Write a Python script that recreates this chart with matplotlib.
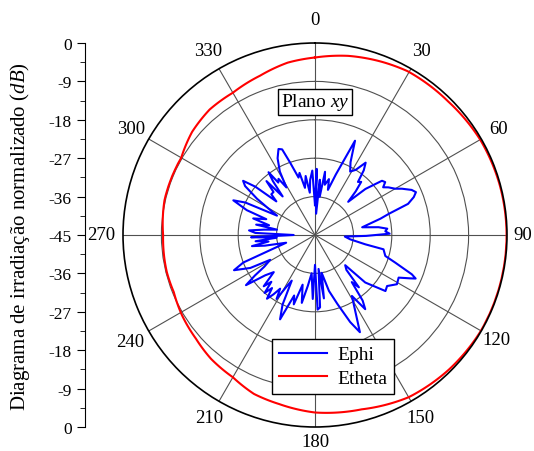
import numpy as np
import matplotlib
matplotlib.use("Agg")
import matplotlib.pyplot as plt
from matplotlib.lines import Line2D

plt.rcParams['font.family'] = ['Liberation Serif', 'DejaVu Serif']
plt.rcParams['mathtext.fontset'] = 'custom'
plt.rcParams['mathtext.rm'] = 'Liberation Serif'
plt.rcParams['mathtext.it'] = 'Liberation Serif:italic'

# ---- data (angle in degrees, level in dB) ----
etheta_deg = [0, 10.5, 21, 29.5, 45, 60, 75, 90, 105, 120, 135, 150, 165, 180,
              192, 201, 210, 220, 229, 239, 248, 256, 270, 283, 290, 300,
              310, 320, 330, 341, 351, 360]
etheta_db = [-3.4, -2.3, -1.5, -0.9, -0.8, -0.3, -0.15, -0.1, -0.1, -0.1, -0.5, -1.1, -2.7, -3.4,
             -4.5, -5.1, -6.5, -7.1, -8.0, -8.6, -9.3, -9.2, -9.4, -8.8, -8.8, -8.8,
             -7.4, -6.6, -6.5, -5.5, -4.1, -3.4]

ephi_deg = [0, 1.5, 3, 5, 7, 9, 11, 14, 16, 19, 23, 26, 29, 32, 35, 37, 39, 41, 43, 45,
            47.6, 51, 53, 55, 57, 60, 62, 65, 67, 69, 71.5, 74, 76, 80.7, 83, 85, 87, 89, 91, 93,
            97, 100.5, 101.8, 106.6, 109, 112.1, 113.4, 114.5, 117, 121, 125.3, 128.5,
            133.4, 135, 138, 140, 142, 144, 145.9, 148.8, 152, 155.2, 158, 162, 166,
            170, 172, 174, 176, 178, 180, 182, 185, 188, 191, 194, 197, 199, 202.5, 205,
            207, 209, 211, 213, 215, 217, 219, 221, 223, 225, 228, 231, 234, 236, 238, 241,
            243, 246.5, 249, 252, 255, 258, 260, 262, 264, 266, 268, 270, 272, 274, 276,
            278, 280, 282, 285, 288, 290, 293, 295, 297, 300, 302, 305, 307, 309, 311, 313,
            316, 318, 320, 322, 323.5, 325, 327, 329, 331, 334, 337, 339, 341, 344, 346,
            348, 351, 353, 355, 357.6, 359, 360]
ephi_db = [-38, -29.5, -40, -32, -36, -30, -33, -31.5, -34, -30, -21, -26, -28, -27, -24.3,
           -26, -29, -28.5, -31, -34,
           -29, -24.8, -24.4, -25.5, -24.5, -23.3, -21.9, -20, -19.3, -20.2, -22, -27, -29.2,
           -33.8, -30, -28, -28.5, -27.5, -33, -38,
           -36.7, -33, -28.6, -27.8, -25.1, -20.5, -19.3, -20.5, -23, -22.6, -24.3, -23.9,
           -28.8, -35, -34, -29, -31, -26, -24, -28.3, -25, -19.9, -23, -28, -31.5,
           -36, -30, -37, -28, -27.5, -38, -30, -36, -33, -28.8, -33, -28, -30, -23.6, -27,
           -33, -31, -27.5, -30, -28, -26.3, -29, -27, -30, -28, -32, -30, -25, -28, -31, -33,
           -28, -24.3, -27, -35, -38, -33, -30, -34, -31, -36, -30, -40, -31, -29.5, -33,
           -36, -31, -34, -30, -33, -28, -24.2, -27, -35, -32, -29, -25, -23.9, -27, -33, -31,
           -31, -28, -33.2, -29, -26.7, -30, -29.3, -32, -28, -25, -23.1, -23.5, -27, -31, -30,
           -33.7, -31, -35, -32, -29.9, -36, -38]

theta_ticks = list(range(0, 360, 30))
theta_labels = [str(t) for t in theta_ticks]
theta_label_offset_db = [5.6, 4.9, 4.7, 3.75, 4.2, 4.4, 3.3, 4.45, 4.9, 5.2, 4.7, 4.9]
ring_levels = [-36, -27, -18, -9]
side_positions = [-45, -36, -27, -18, -9, 0, 9, 18, 27, 36, 45]
side_labels = ['0', '-9', '-18', '-27', '-36', '-45', '-36', '-27', '-18', '-9', '0']

W, H = 534, 452
fig = plt.figure(figsize=(W / 100, H / 100), dpi=100)

cx, cy, R = 315, 236, 192
ax = fig.add_axes([(cx - R) / W, (H - cy - R) / H, 2 * R / W, 2 * R / H], projection='polar')
ax.set_theta_zero_location('N')
ax.set_theta_direction(-1)
ax.set_ylim(-45, 0)
ax.set_yticks(ring_levels)
ax.set_yticklabels([])
ax.set_xticks(np.deg2rad(theta_ticks))
ax.set_xticklabels([])
ax.set_xticks(np.deg2rad(np.arange(15, 360, 30)), minor=True)
ax.tick_params(axis='x', which='major', length=0)
ax.tick_params(axis='x', which='minor', length=3, direction='in', color='black')
ax.grid(True, color='#505050', linewidth=0.8)
ax.spines['polar'].set_color('black')
ax.spines['polar'].set_linewidth(1.2)

for t, lab, off in zip(theta_ticks, theta_labels, theta_label_offset_db):
    ax.text(np.deg2rad(t), 0 + off, lab, fontsize=13.5, ha='center', va='center',
            clip_on=False)

ax.plot(np.deg2rad(ephi_deg), ephi_db, color='#0000FF', lw=1.5, label='Ephi')
red, = ax.plot(np.deg2rad(etheta_deg), etheta_db, color='#FF0000', lw=1.5, label='Etheta')
red.get_path()._interpolation_steps = 30

# side scale
sax = fig.add_axes([85 / W, (H - cy - R) / H, 0.001, 2 * R / H])
sax.set_ylim(-45, 45)
sax.set_yticks(side_positions)
sax.set_yticklabels(side_labels, fontsize=12.5)
sax.set_yticks(np.arange(-40.5, 45, 9), minor=True)
sax.tick_params(axis='y', which='major', length=6, direction='out')
sax.tick_params(axis='y', which='minor', length=3.5, direction='out')
sax.set_xticks([])
for s in ['top', 'right', 'bottom']:
    sax.spines[s].set_visible(False)
sax.patch.set_visible(False)

fig.text(20 / W, 1 - 237 / H, r'Diagrama de irradiação normalizado ($\mathit{dB}$)',
         fontsize=15, rotation=90, ha='center', va='center')

fig.text(cx / W, 1 - 103 / H, r'Plano $\mathit{xy}$', fontsize=14, ha='center', va='center',
         bbox=dict(boxstyle='square,pad=0.15', facecolor='white', edgecolor='black', lw=1))

handles = [Line2D([], [], color='#0000FF', lw=1.5), Line2D([], [], color='#FF0000', lw=1.5)]
fig.legend(handles, ['Ephi', 'Etheta'], loc='upper left', bbox_to_anchor=(272 / W, 1 - 340 / H),
           fontsize=14, frameon=True, fancybox=False, edgecolor='black', framealpha=1,
           handlelength=2.5, borderpad=0.35, labelspacing=0.32, handletextpad=0.5,
           borderaxespad=0)

fig.savefig('out.png', dpi=100)
